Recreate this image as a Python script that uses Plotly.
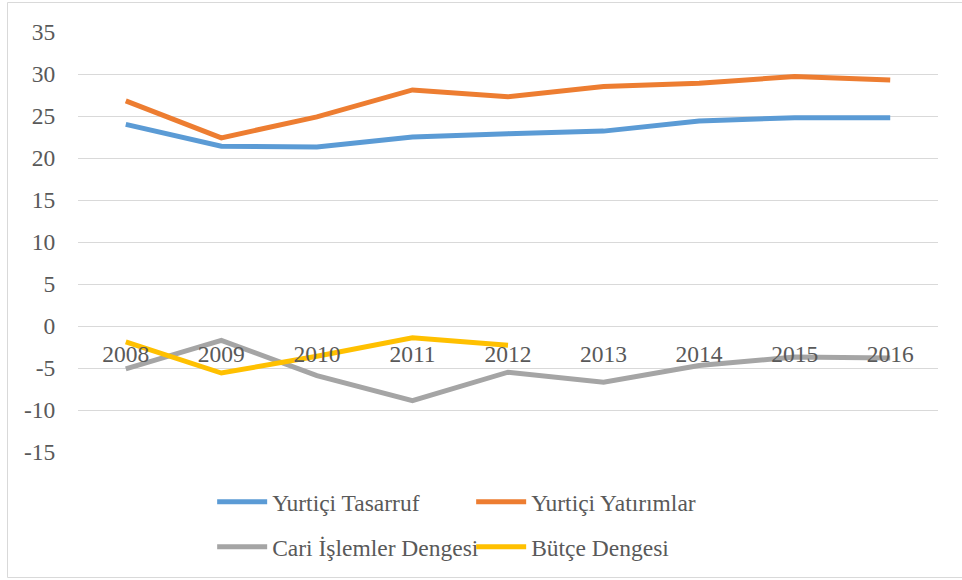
import plotly.graph_objects as go

years = ["2008", "2009", "2010", "2011", "2012", "2013", "2014", "2015", "2016"]
yurtici_tasarruf = [24.0, 21.4, 21.3, 22.5, 22.9, 23.2, 24.4, 24.8, 24.8]
yurtici_yatirimlar = [26.8, 22.4, 24.9, 28.1, 27.3, 28.5, 28.9, 29.7, 29.3]
cari_islemler = [-5.1, -1.7, -5.9, -8.9, -5.5, -6.7, -4.7, -3.7, -3.8]
butce_dengesi = [-1.9, -5.6, -3.6, -1.4, -2.3, None, None, None, None]

y_tick_vals = [-15, -10, -5, 0, 5, 10, 15, 20, 25, 30, 35]
y_tick_text = ["-15", "-10", "-5", "0", "5", "10", "15", "20", "25", "30", "35"]

FONT = "Liberation Serif, Times New Roman, serif"
FS = 23.5
TXT = "#595959"

fig = go.Figure()
series = [
    ("Yurtiçi Tasarruf", yurtici_tasarruf, "#5B9BD5", "legend"),
    ("Yurtiçi Yatırımlar", yurtici_yatirimlar, "#ED7D31", "legend"),
    ("Cari İşlemler Dengesi", cari_islemler, "#A5A5A5", "legend2"),
    ("Bütçe Dengesi", butce_dengesi, "#FFC000", "legend2"),
]
for name, vals, col, lg in series:
    fig.add_trace(go.Scatter(
        x=years, y=vals, name=name, mode="lines",
        line=dict(color=col, width=5), legend=lg,
    ))

legend_common = dict(
    orientation="h", xanchor="left", yanchor="middle",
    font=dict(family=FONT, size=FS, color=TXT),
    entrywidth=194, entrywidthmode="pixels",
    bgcolor="rgba(0,0,0,0)", itemwidth=50,
)

fig.update_layout(
    width=962, height=580,
    margin=dict(l=78, r=24, t=32, b=128, autoexpand=False),
    paper_bgcolor="white", plot_bgcolor="white",
    font=dict(family=FONT, size=FS, color=TXT),
    showlegend=True,
    legend=dict(x=0.156, y=-0.119, **legend_common),
    legend2=dict(x=0.156, y=-0.226, **legend_common),
    xaxis=dict(
        type="category", range=[-0.5, 8.5],
        anchor="free", position=0.3, automargin=False,
        showgrid=False, showline=False, zeroline=False,
        ticks="outside", ticklen=7, tickcolor="rgba(0,0,0,0)",
        tickfont=dict(family=FONT, size=FS, color=TXT),
    ),
    yaxis=dict(
        range=[-15, 35], tickvals=y_tick_vals, ticktext=y_tick_text,
        automargin=False,
        showgrid=True, gridcolor="#D9D9D9", gridwidth=1,
        zeroline=False, showline=False,
        ticks="outside", ticklen=17, tickcolor="rgba(0,0,0,0)",
        tickfont=dict(family=FONT, size=FS, color=TXT),
    ),
    shapes=[dict(
        type="rect", xref="paper", yref="paper",
        x0=(7.5 - 78) / 860, x1=(990 - 78) / 860,
        y0=(452 - 577.5) / 420, y1=(452 - 2.5) / 420,
        line=dict(color="#D9D9D9", width=1), fillcolor="rgba(0,0,0,0)",
        layer="below",
    )],
)

fig.write_html(
    "out.html",
    config={"displayModeBar": False},
    post_script="document.body.style.margin='0';document.body.style.overflow='hidden';",
)
